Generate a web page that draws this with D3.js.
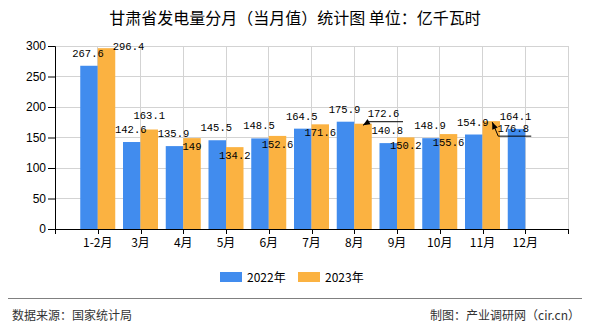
<!DOCTYPE html>
<html><head><meta charset="utf-8">
<script src="https://cdn.jsdelivr.net/npm/d3@7"></script>
<style>body{margin:0;background:#fff}svg{display:block}</style>
</head><body>
<svg id="c" width="590" height="330"></svg>
<script>
const categories = ["1-2月","3月","4月","5月","6月","7月","8月","9月","10月","11月","12月"];
const series = ["2022年","2023年"];
const values2022 = [267.6,142.6,135.9,145.5,148.5,164.5,175.9,140.8,148.9,154.9,164.1];
const values2023 = [296.4,163.1,149,134.2,152.6,171.6,172.6,150.2,155.6,176.8,null];
const yTicks = [0,50,100,150,200,250,300];
const colors = ["#418cee","#fbb241"];

const svg = d3.select("#c");
const L=55, R=568, T=46, B=229;
const x = d3.scalePoint().domain(categories).range([L,R]).padding(1);
const step = x.step();
const bw = 17.5;
const sub = d3.scaleBand().domain(series).range([-bw,bw]).paddingInner(0);
const y = d3.scaleLinear().domain([0,300]).range([B,T]);
const numFont = "'Liberation Mono','DejaVu Sans Mono',monospace";
const cjk = "'Noto Sans CJK SC','Noto Sans',sans-serif";

// title
svg.append("text").attr("x",295).attr("y",24).attr("text-anchor","middle")
  .attr("font-family",cjk).attr("font-size",16).attr("fill","#000")
  .text("甘肃省发电量分月（当月值）统计图 单位：亿千瓦时");

// grid
const bounds = d3.range(13).map(k=>L+k*step);
svg.append("g").selectAll("line").data(yTicks.slice(1)).join("line")
  .attr("x1",L).attr("x2",R).attr("y1",d=>y(d)).attr("y2",d=>y(d))
  .attr("stroke","#d3d3d3").attr("stroke-width",1).attr("shape-rendering","crispEdges");
svg.append("g").selectAll("line").data(bounds.slice(1)).join("line")
  .attr("x1",d=>d).attr("x2",d=>d).attr("y1",T).attr("y2",B)
  .attr("stroke","#d3d3d3").attr("stroke-width",1).attr("shape-rendering","crispEdges");

// bars
const data = [values2022, values2023];
data.forEach((vals,si)=>{
  svg.append("g").selectAll("rect").data(vals.map((v,i)=>({v,i})).filter(d=>d.v!=null)).join("rect")
    .attr("x",d=>x(categories[d.i])+sub(series[si]))
    .attr("width",sub.bandwidth())
    .attr("y",d=>y(d.v)).attr("height",d=>B-y(d.v))
    .attr("fill",colors[si]);
});

// axes
const yAxis = svg.append("g").attr("transform",`translate(${L},0)`)
  .call(d3.axisLeft(y).tickValues(yTicks).tickSize(7).tickPadding(2));
yAxis.select(".domain").attr("stroke","#000");
yAxis.selectAll("text").attr("font-family","'Liberation Sans',Arial,sans-serif").attr("font-size",12).attr("fill","#000");
svg.append("line").attr("x1",L).attr("x2",R).attr("y1",B+0.5).attr("y2",B+0.5).attr("stroke","#000");
svg.append("g").selectAll("line").data(bounds).join("line")
  .attr("x1",d=>Math.round(d)+0.5).attr("x2",d=>Math.round(d)+0.5).attr("y1",B).attr("y2",B+5).attr("stroke","#000");
svg.append("g").selectAll("text").data(categories).join("text")
  .attr("x",d=>x(d)).attr("y",B+18).attr("text-anchor","middle")
  .attr("font-family",cjk).attr("font-size",12).attr("fill","#000").text(d=>d);

// value labels
const lab = svg.append("g").attr("font-family",numFont).attr("font-size",10.5).attr("fill","#000").attr("text-anchor","middle");
values2022.forEach((v,i)=>{
  const cx = x(categories[i])+sub(series[0])+bw/2;
  lab.append("text").attr("x",cx-1).attr("y",y(v)-9).text(v);
});
const adj2023 = {0:[22,2],1:[0,-10.5],6:[20.5,-7],9:[22,11]};
values2023.forEach((v,i)=>{
  if(v==null) return;
  const cx = x(categories[i])+sub(series[1])+bw/2;
  const a = adj2023[i]||[0,12];
  lab.append("text").attr("x",cx+a[0]).attr("y",y(v)+a[1]).text(v);
});
// leader lines
function leader(pts){
  svg.append("path").attr("d",d3.line()(pts)).attr("fill","none").attr("stroke","#000").attr("stroke-width",1);
  const [p1,p0]=[pts[pts.length-2],pts[pts.length-1]];
  const ang=Math.atan2(p0[1]-p1[1],p0[0]-p1[0]);
  const s=7,w=3;
  const bx=p0[0]-s*Math.cos(ang), by=p0[1]-s*Math.sin(ang);
  svg.append("path").attr("d",`M${p0[0]},${p0[1]}L${bx+w*Math.sin(ang)},${by-w*Math.cos(ang)}L${bx-w*Math.sin(ang)},${by+w*Math.cos(ang)}Z`).attr("fill","#000");
}
{
  const cx = x(categories[6])+sub(series[1])+bw/2, ty=y(values2023[6]);
  leader([[cx+40,ty-2],[cx+6,ty-2],[cx,ty+1.5]]);
  const cx2 = x(categories[9])+sub(series[1])+bw/2, ty2=y(values2023[9]);
  leader([[cx2+40,ty2+15],[cx2+7,ty2+15],[cx2+1,ty2+1]]);
}

// legend
const lg = svg.append("g");
series.forEach((s,i)=>{
  const lx = 220+i*78;
  lg.append("rect").attr("x",lx).attr("y",272).attr("width",22).attr("height",10).attr("fill",colors[i]);
  lg.append("text").attr("x",lx+27).attr("y",281.5).attr("font-family",cjk).attr("font-size",12).attr("fill","#000").text(s);
});

// footer
svg.append("line").attr("x1",8).attr("x2",582).attr("y1",298.5).attr("y2",298.5).attr("stroke","#808080");
svg.append("text").attr("x",12).attr("y",320).attr("font-family",cjk).attr("font-size",12).attr("fill","#333").text("数据来源：国家统计局");
svg.append("text").attr("x",580).attr("y",320).attr("text-anchor","end").attr("font-family",cjk).attr("font-size",12).attr("fill","#333").text("制图：产业调研网（cir.cn）");
</script>
</body></html>
